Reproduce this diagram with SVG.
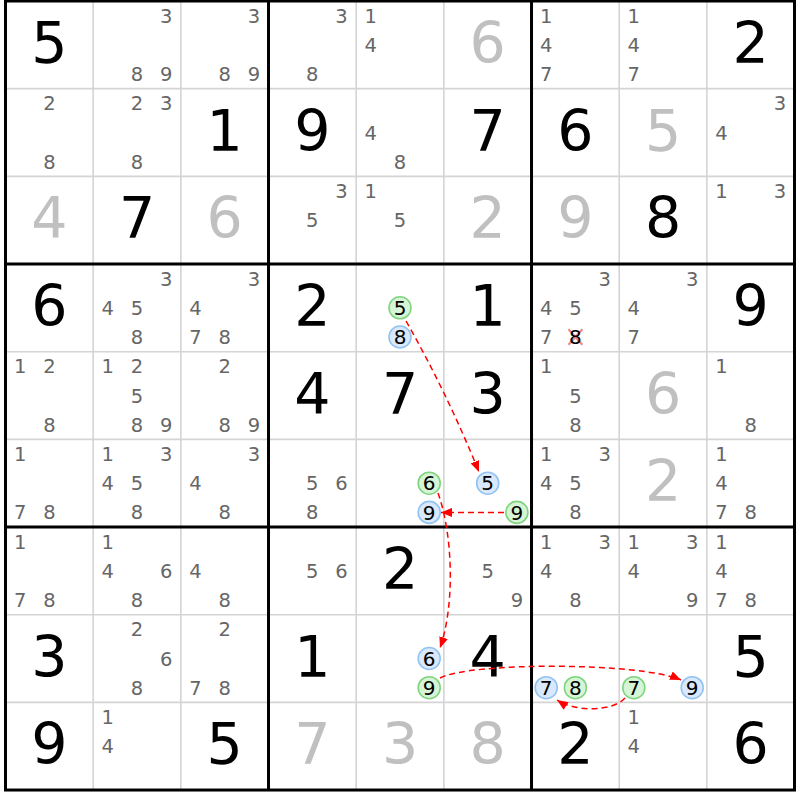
<svg xmlns="http://www.w3.org/2000/svg" width="800" height="800" viewBox="0 0 800 800">
<style>
text{font-family:"DejaVu Sans","Liberation Sans",sans-serif;text-anchor:middle}
.g{font-size:57px;fill:#000}
.s{font-size:57px;fill:#c0c0c0}
.c{font-size:19.5px;fill:#666}
.k{font-size:20px;fill:#000}
.cg{fill:#d6f5d6;stroke:#80d480;stroke-width:1.6}
.cb{fill:#d9e9fb;stroke:#92c3f2;stroke-width:1.6}
.thin{stroke:#d4d4d4;stroke-width:1.6}
.thick{stroke:#000;stroke-width:3;fill:none}
.arr{fill:none;stroke:#f00;stroke-width:1.5;stroke-dasharray:6 4;marker-end:url(#ah)}
.x{stroke:#f08888;stroke-width:2.2}
</style>
<defs>
<marker id="ah" markerUnits="userSpaceOnUse" markerWidth="11" markerHeight="9" refX="11" refY="4.5" orient="auto">
<path d="M0,0 L11,4.5 L0,9 z" fill="#f00"/>
</marker>
</defs>
<rect x="0" y="0" width="800" height="800" fill="#fff"/>
<g id="grid">
<g class="thin">
<line x1="93.17" y1="1" x2="93.17" y2="790"/><line x1="180.84" y1="1" x2="180.84" y2="790"/>
<line x1="356.18" y1="1" x2="356.18" y2="790"/><line x1="443.85" y1="1" x2="443.85" y2="790"/>
<line x1="619.19" y1="1" x2="619.19" y2="790"/><line x1="706.86" y1="1" x2="706.86" y2="790"/>
<line x1="5.5" y1="88.67" x2="794.5" y2="88.67"/><line x1="5.5" y1="176.34" x2="794.5" y2="176.34"/>
<line x1="5.5" y1="351.68" x2="794.5" y2="351.68"/><line x1="5.5" y1="439.35" x2="794.5" y2="439.35"/>
<line x1="5.5" y1="614.69" x2="794.5" y2="614.69"/><line x1="5.5" y1="702.36" x2="794.5" y2="702.36"/>
</g>
<g class="thick">
<line x1="268.51" y1="1" x2="268.51" y2="790"/><line x1="531.52" y1="1" x2="531.52" y2="790"/>
<line x1="5.5" y1="264.01" x2="794.5" y2="264.01"/><line x1="5.5" y1="527.02" x2="794.5" y2="527.02"/>
<rect x="5.5" y="1" width="789" height="789.03"/>
</g>
</g>
<!-- row 0 -->
<g id="r0c0" transform="translate(49.34,44.8)"><text class="g" x="0" y="18">5</text></g>
<g id="r0c1" transform="translate(137,44.8)"><text class="c" x="29.2" y="-22.2">3</text><text class="c" x="0" y="36.2">8</text><text class="c" x="29.2" y="36.2">9</text></g>
<g id="r0c2" transform="translate(224.7,44.8)"><text class="c" x="29.2" y="-22.2">3</text><text class="c" x="0" y="36.2">8</text><text class="c" x="29.2" y="36.2">9</text></g>
<g id="r0c3" transform="translate(312.3,44.8)"><text class="c" x="29.2" y="-22.2">3</text><text class="c" x="0" y="36.2">8</text></g>
<g id="r0c4" transform="translate(400,44.8)"><text class="c" x="-29.2" y="-22.2">1</text><text class="c" x="-29.2" y="7">4</text></g>
<g id="r0c5" transform="translate(487.7,44.8)"><text class="s" x="0" y="18">6</text></g>
<g id="r0c6" transform="translate(575.4,44.8)"><text class="c" x="-29.2" y="-22.2">1</text><text class="c" x="-29.2" y="7">4</text><text class="c" x="-29.2" y="36.2">7</text></g>
<g id="r0c7" transform="translate(663,44.8)"><text class="c" x="-29.2" y="-22.2">1</text><text class="c" x="-29.2" y="7">4</text><text class="c" x="-29.2" y="36.2">7</text></g>
<g id="r0c8" transform="translate(750.7,44.8)"><text class="g" x="0" y="18">2</text></g>
<!-- row 1 -->
<g id="r1c0" transform="translate(49.34,132.5)"><text class="c" x="0" y="-22.2">2</text><text class="c" x="0" y="36.2">8</text></g>
<g id="r1c1" transform="translate(137,132.5)"><text class="c" x="0" y="-22.2">2</text><text class="c" x="29.2" y="-22.2">3</text><text class="c" x="0" y="36.2">8</text></g>
<g id="r1c2" transform="translate(224.7,132.5)"><text class="g" x="0" y="18">1</text></g>
<g id="r1c3" transform="translate(312.3,132.5)"><text class="g" x="0" y="18">9</text></g>
<g id="r1c4" transform="translate(400,132.5)"><text class="c" x="-29.2" y="7">4</text><text class="c" x="0" y="36.2">8</text></g>
<g id="r1c5" transform="translate(487.7,132.5)"><text class="g" x="0" y="18">7</text></g>
<g id="r1c6" transform="translate(575.4,132.5)"><text class="g" x="0" y="18">6</text></g>
<g id="r1c7" transform="translate(663,132.5)"><text class="s" x="0" y="18">5</text></g>
<g id="r1c8" transform="translate(750.7,132.5)"><text class="c" x="29.2" y="-22.2">3</text><text class="c" x="-29.2" y="7">4</text></g>
<!-- row 2 -->
<g id="r2c0" transform="translate(49.34,220.2)"><text class="s" x="0" y="18">4</text></g>
<g id="r2c1" transform="translate(137,220.2)"><text class="g" x="0" y="18">7</text></g>
<g id="r2c2" transform="translate(224.7,220.2)"><text class="s" x="0" y="18">6</text></g>
<g id="r2c3" transform="translate(312.3,220.2)"><text class="c" x="29.2" y="-22.2">3</text><text class="c" x="0" y="7">5</text></g>
<g id="r2c4" transform="translate(400,220.2)"><text class="c" x="-29.2" y="-22.2">1</text><text class="c" x="0" y="7">5</text></g>
<g id="r2c5" transform="translate(487.7,220.2)"><text class="s" x="0" y="18">2</text></g>
<g id="r2c6" transform="translate(575.4,220.2)"><text class="s" x="0" y="18">9</text></g>
<g id="r2c7" transform="translate(663,220.2)"><text class="g" x="0" y="18">8</text></g>
<g id="r2c8" transform="translate(750.7,220.2)"><text class="c" x="-29.2" y="-22.2">1</text><text class="c" x="29.2" y="-22.2">3</text></g>
<!-- row 3 -->
<g id="r3c0" transform="translate(49.34,307.8)"><text class="g" x="0" y="18">6</text></g>
<g id="r3c1" transform="translate(137,307.8)"><text class="c" x="29.2" y="-22.2">3</text><text class="c" x="-29.2" y="7">4</text><text class="c" x="0" y="7">5</text><text class="c" x="0" y="36.2">8</text></g>
<g id="r3c2" transform="translate(224.7,307.8)"><text class="c" x="29.2" y="-22.2">3</text><text class="c" x="-29.2" y="7">4</text><text class="c" x="-29.2" y="36.2">7</text><text class="c" x="0" y="36.2">8</text></g>
<g id="r3c3" transform="translate(312.3,307.8)"><text class="g" x="0" y="18">2</text></g>
<g id="r3c4" transform="translate(400,307.8)"><circle class="cg" cx="0" cy="0" r="11"/><text class="k" x="0" y="7.2">5</text><circle class="cb" cx="0" cy="29.2" r="11"/><text class="k" x="0" y="36.4">8</text></g>
<g id="r3c5" transform="translate(487.7,307.8)"><text class="g" x="0" y="18">1</text></g>
<g id="r3c6" transform="translate(575.4,307.8)"><text class="c" x="29.2" y="-22.2">3</text><text class="c" x="-29.2" y="7">4</text><text class="c" x="0" y="7">5</text><text class="c" x="-29.2" y="36.2">7</text><line class="x" x1="-7" y1="21.5" x2="7" y2="37"/><line class="x" x1="7" y1="21.5" x2="-7" y2="37"/><text class="k" x="0" y="36.2">8</text></g>
<g id="r3c7" transform="translate(663,307.8)"><text class="c" x="29.2" y="-22.2">3</text><text class="c" x="-29.2" y="7">4</text><text class="c" x="-29.2" y="36.2">7</text></g>
<g id="r3c8" transform="translate(750.7,307.8)"><text class="g" x="0" y="18">9</text></g>
<!-- row 4 -->
<g id="r4c0" transform="translate(49.34,395.5)"><text class="c" x="-29.2" y="-22.2">1</text><text class="c" x="0" y="-22.2">2</text><text class="c" x="0" y="36.2">8</text></g>
<g id="r4c1" transform="translate(137,395.5)"><text class="c" x="-29.2" y="-22.2">1</text><text class="c" x="0" y="-22.2">2</text><text class="c" x="0" y="7">5</text><text class="c" x="0" y="36.2">8</text><text class="c" x="29.2" y="36.2">9</text></g>
<g id="r4c2" transform="translate(224.7,395.5)"><text class="c" x="0" y="-22.2">2</text><text class="c" x="0" y="36.2">8</text><text class="c" x="29.2" y="36.2">9</text></g>
<g id="r4c3" transform="translate(312.3,395.5)"><text class="g" x="0" y="18">4</text></g>
<g id="r4c4" transform="translate(400,395.5)"><text class="g" x="0" y="18">7</text></g>
<g id="r4c5" transform="translate(487.7,395.5)"><text class="g" x="0" y="18">3</text></g>
<g id="r4c6" transform="translate(575.4,395.5)"><text class="c" x="-29.2" y="-22.2">1</text><text class="c" x="0" y="7">5</text><text class="c" x="0" y="36.2">8</text></g>
<g id="r4c7" transform="translate(663,395.5)"><text class="s" x="0" y="18">6</text></g>
<g id="r4c8" transform="translate(750.7,395.5)"><text class="c" x="-29.2" y="-22.2">1</text><text class="c" x="0" y="36.2">8</text></g>
<!-- row 5 -->
<g id="r5c0" transform="translate(49.34,483.2)"><text class="c" x="-29.2" y="-22.2">1</text><text class="c" x="-29.2" y="36.2">7</text><text class="c" x="0" y="36.2">8</text></g>
<g id="r5c1" transform="translate(137,483.2)"><text class="c" x="-29.2" y="-22.2">1</text><text class="c" x="29.2" y="-22.2">3</text><text class="c" x="-29.2" y="7">4</text><text class="c" x="0" y="7">5</text><text class="c" x="0" y="36.2">8</text></g>
<g id="r5c2" transform="translate(224.7,483.2)"><text class="c" x="29.2" y="-22.2">3</text><text class="c" x="-29.2" y="7">4</text><text class="c" x="0" y="36.2">8</text></g>
<g id="r5c3" transform="translate(312.3,483.2)"><text class="c" x="0" y="7">5</text><text class="c" x="29.2" y="7">6</text><text class="c" x="0" y="36.2">8</text></g>
<g id="r5c4" transform="translate(400,483.2)"><circle class="cg" cx="29.2" cy="0" r="11"/><text class="k" x="29.2" y="7.2">6</text><circle class="cb" cx="29.2" cy="29.2" r="11"/><text class="k" x="29.2" y="36.4">9</text></g>
<g id="r5c5" transform="translate(487.7,483.2)"><circle class="cb" cx="0" cy="0" r="11"/><text class="k" x="0" y="7.2">5</text><circle class="cg" cx="29.2" cy="29.2" r="11"/><text class="k" x="29.2" y="36.4">9</text></g>
<g id="r5c6" transform="translate(575.4,483.2)"><text class="c" x="-29.2" y="-22.2">1</text><text class="c" x="29.2" y="-22.2">3</text><text class="c" x="-29.2" y="7">4</text><text class="c" x="0" y="7">5</text><text class="c" x="0" y="36.2">8</text></g>
<g id="r5c7" transform="translate(663,483.2)"><text class="s" x="0" y="18">2</text></g>
<g id="r5c8" transform="translate(750.7,483.2)"><text class="c" x="-29.2" y="-22.2">1</text><text class="c" x="-29.2" y="7">4</text><text class="c" x="-29.2" y="36.2">7</text><text class="c" x="0" y="36.2">8</text></g>
<!-- row 6 -->
<g id="r6c0" transform="translate(49.34,570.9)"><text class="c" x="-29.2" y="-22.2">1</text><text class="c" x="-29.2" y="36.2">7</text><text class="c" x="0" y="36.2">8</text></g>
<g id="r6c1" transform="translate(137,570.9)"><text class="c" x="-29.2" y="-22.2">1</text><text class="c" x="-29.2" y="7">4</text><text class="c" x="29.2" y="7">6</text><text class="c" x="0" y="36.2">8</text></g>
<g id="r6c2" transform="translate(224.7,570.9)"><text class="c" x="-29.2" y="7">4</text><text class="c" x="0" y="36.2">8</text></g>
<g id="r6c3" transform="translate(312.3,570.9)"><text class="c" x="0" y="7">5</text><text class="c" x="29.2" y="7">6</text></g>
<g id="r6c4" transform="translate(400,570.9)"><text class="g" x="0" y="18">2</text></g>
<g id="r6c5" transform="translate(487.7,570.9)"><text class="c" x="0" y="7">5</text><text class="c" x="29.2" y="36.2">9</text></g>
<g id="r6c6" transform="translate(575.4,570.9)"><text class="c" x="-29.2" y="-22.2">1</text><text class="c" x="29.2" y="-22.2">3</text><text class="c" x="-29.2" y="7">4</text><text class="c" x="0" y="36.2">8</text></g>
<g id="r6c7" transform="translate(663,570.9)"><text class="c" x="-29.2" y="-22.2">1</text><text class="c" x="29.2" y="-22.2">3</text><text class="c" x="-29.2" y="7">4</text><text class="c" x="29.2" y="36.2">9</text></g>
<g id="r6c8" transform="translate(750.7,570.9)"><text class="c" x="-29.2" y="-22.2">1</text><text class="c" x="-29.2" y="7">4</text><text class="c" x="-29.2" y="36.2">7</text><text class="c" x="0" y="36.2">8</text></g>
<!-- row 7 -->
<g id="r7c0" transform="translate(49.34,658.5)"><text class="g" x="0" y="18">3</text></g>
<g id="r7c1" transform="translate(137,658.5)"><text class="c" x="0" y="-22.2">2</text><text class="c" x="29.2" y="7">6</text><text class="c" x="0" y="36.2">8</text></g>
<g id="r7c2" transform="translate(224.7,658.5)"><text class="c" x="0" y="-22.2">2</text><text class="c" x="-29.2" y="36.2">7</text><text class="c" x="0" y="36.2">8</text></g>
<g id="r7c3" transform="translate(312.3,658.5)"><text class="g" x="0" y="18">1</text></g>
<g id="r7c4" transform="translate(400,658.5)"><circle class="cb" cx="29.2" cy="0" r="11"/><text class="k" x="29.2" y="7.2">6</text><circle class="cg" cx="29.2" cy="29.2" r="11"/><text class="k" x="29.2" y="36.4">9</text></g>
<g id="r7c5" transform="translate(487.7,658.5)"><text class="g" x="0" y="18">4</text></g>
<g id="r7c6" transform="translate(575.4,658.5)"><circle class="cb" cx="-29.2" cy="29.2" r="11"/><text class="k" x="-29.2" y="36.4">7</text><circle class="cg" cx="0" cy="29.2" r="11"/><text class="k" x="0" y="36.4">8</text></g>
<g id="r7c7" transform="translate(663,658.5)"><circle class="cg" cx="-29.2" cy="29.2" r="11"/><text class="k" x="-29.2" y="36.4">7</text><circle class="cb" cx="29.2" cy="29.2" r="11"/><text class="k" x="29.2" y="36.4">9</text></g>
<g id="r7c8" transform="translate(750.7,658.5)"><text class="g" x="0" y="18">5</text></g>
<!-- row 8 -->
<g id="r8c0" transform="translate(49.34,746.2)"><text class="g" x="0" y="18">9</text></g>
<g id="r8c1" transform="translate(137,746.2)"><text class="c" x="-29.2" y="-22.2">1</text><text class="c" x="-29.2" y="7">4</text></g>
<g id="r8c2" transform="translate(224.7,746.2)"><text class="g" x="0" y="18">5</text></g>
<g id="r8c3" transform="translate(312.3,746.2)"><text class="s" x="0" y="18">7</text></g>
<g id="r8c4" transform="translate(400,746.2)"><text class="s" x="0" y="18">3</text></g>
<g id="r8c5" transform="translate(487.7,746.2)"><text class="s" x="0" y="18">8</text></g>
<g id="r8c6" transform="translate(575.4,746.2)"><text class="g" x="0" y="18">2</text></g>
<g id="r8c7" transform="translate(663,746.2)"><text class="c" x="-29.2" y="-22.2">1</text><text class="c" x="-29.2" y="7">4</text></g>
<g id="r8c8" transform="translate(750.7,746.2)"><text class="g" x="0" y="18">6</text></g>
<g id="connectors">
<path class="arr" d="M406,321 Q447,393 479,472"/>
<path class="arr" d="M504,512.4 L441,512.4"/>
<path class="arr" d="M438,493 C453,535 455,605 440,648"/>
<path class="arr" d="M440,678 C470,662 640,662 681,680"/>
<path class="arr" d="M625,698 C612,712 575,712 557,700"/>
</g>
</svg>
